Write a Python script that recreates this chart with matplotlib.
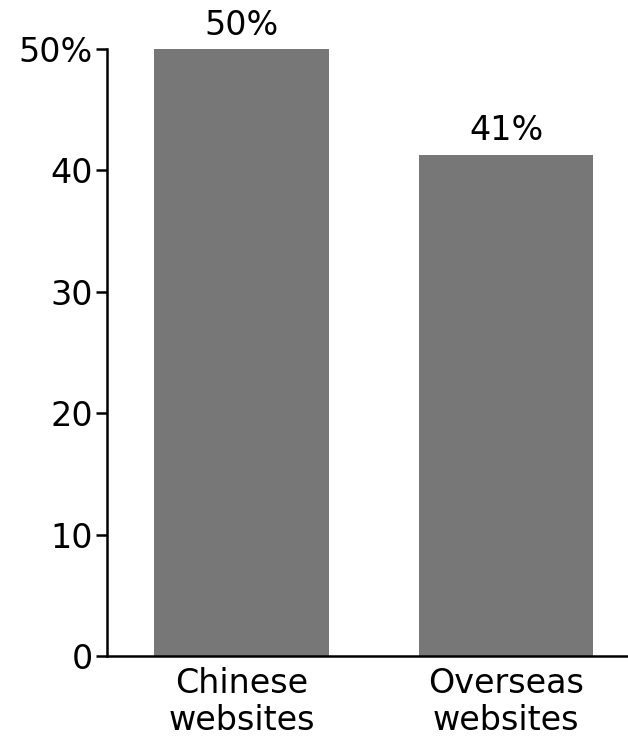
import matplotlib
matplotlib.use("Agg")
import matplotlib.pyplot as plt

categories = ["Chinese\nwebsites", "Overseas\nwebsites"]
shares = [50.0, 41.3]
yticks = [0, 10, 20, 30, 40, 50]
ytick_labels = ["0", "10", "20", "30", "40", "50%"]

plt.rcParams["font.family"] = ["DejaVu Sans"]

fig = plt.figure(figsize=(6.28, 7.40), dpi=100)
ax = fig.add_axes([0.1704, 0.1135, 0.8296, 0.8203])

x = list(range(len(categories)))
bars = ax.bar(x, shares, width=0.66, color="#777777", zorder=2)

for xi, v in zip(x, shares):
    ax.text(xi, v + 0.6, f"{v:.0f}%", ha="center", va="bottom", fontsize=24)

ax.set_xlim(-0.508, 1.461)
ax.set_ylim(0, 50)
ax.set_yticks(yticks)
ax.set_yticklabels(ytick_labels, fontsize=24)
ax.set_xticks(x)
ax.set_xticklabels(categories, fontsize=24, linespacing=1.15)
ax.tick_params(axis="x", length=0, pad=8)
ax.tick_params(axis="y", length=8, width=1.8, pad=2)

for side in ("top", "right"):
    ax.spines[side].set_visible(False)
for side in ("left", "bottom"):
    ax.spines[side].set_linewidth(1.8)

fig.savefig("out.png", dpi=100)
